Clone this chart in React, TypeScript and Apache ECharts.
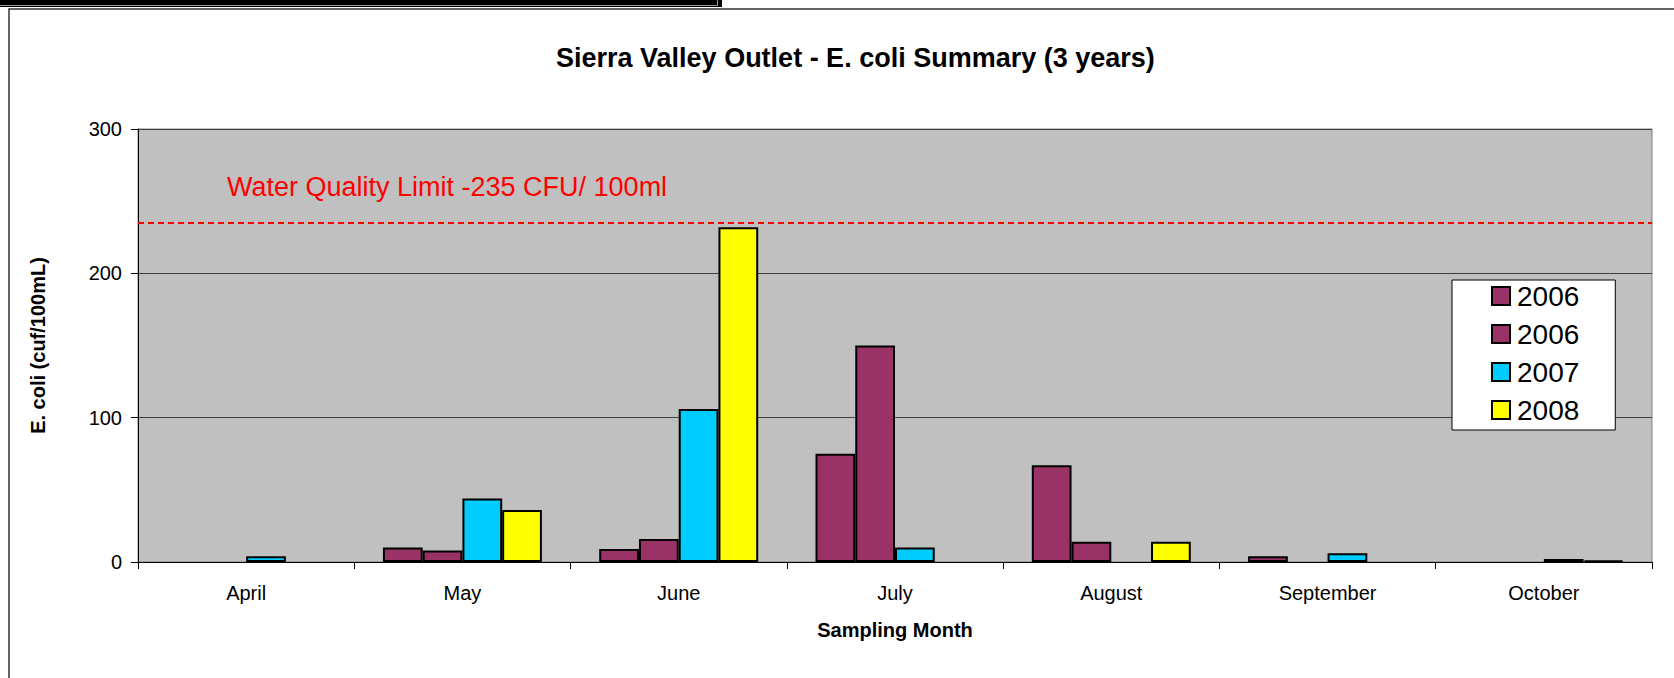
import React, { useEffect, useRef } from "react";
import * as echarts from "echarts";

const months = ["April", "May", "June", "July", "August", "September", "October"];
const legendLabels = ["2006", "2006", "2007", "2008"];
const seriesKeys = ["s2006a", "s2006b", "s2007", "s2008"];
const colors = ["#993366", "#993366", "#00CCFF", "#FFFF00"];
const values2006a = [null, 10, 9, 75, 67, 4, null];
const values2006b = [null, 8, 16, 150, 14, null, null];
const values2007 = [4, 44, 106, 10, null, 6, 2];
const values2008 = [null, 36, 232, null, 14, null, 1];
const yTicks = [0, 100, 200, 300];
const limitValue = 235;
const limitLabel = "Water Quality Limit -235 CFU/ 100ml";
const titleText = "Sierra Valley Outlet - E. coli Summary (3 years)";
const xName = "Sampling Month";
const yName = "E. coli (cuf/100mL)";

const FONT = "'Liberation Sans', Arial, Helvetica, sans-serif";

export default function App() {
  const ref = useRef<HTMLDivElement>(null);
  useEffect(() => {
    if (!ref.current) return;
    const chart = echarts.init(ref.current, null, { renderer: "svg" });
    const allValues = [values2006a, values2006b, values2007, values2008];
    const labelMap: Record<string, string> = {};
    seriesKeys.forEach((k, i) => (labelMap[k] = legendLabels[i]));
    const series: any[] = allValues.map((vals, i) => ({
      type: "bar",
      name: seriesKeys[i],
      data: vals,
      barGap: "0%",
      barCategoryGap: "26.5%",
      itemStyle: { color: colors[i], borderColor: "#000", borderWidth: 2 },
      emphasis: { disabled: true },
      ...(i === 0
        ? {
            markLine: {
              silent: true,
              symbol: "none",
              label: { show: false },
              lineStyle: { color: "#FF0000", type: [6, 4], width: 2 },
              data: [{ yAxis: limitValue }],
            },
          }
        : {}),
    }));
    chart.setOption({
      animation: false,
      backgroundColor: "#ffffff",
      textStyle: { fontFamily: FONT },
      title: {
        text: titleText,
        left: 556,
        top: 44,
        padding: 0,
        textStyle: { fontFamily: FONT, fontSize: 27, fontWeight: "bold", color: "#000" },
      },
      legend: {
        orient: "vertical",
        left: 1452,
        top: 280,
        padding: [2, 36, 6, 39],
        itemWidth: 18,
        itemHeight: 18,
        itemGap: 10,
        backgroundColor: "#ffffff",
        borderColor: "#000",
        borderWidth: 1,
        data: seriesKeys.map((k, i) => ({
          name: k,
          icon: "rect",
          itemStyle: { color: colors[i], borderColor: "#000", borderWidth: 2 },
        })),
        formatter: (n: string) => labelMap[n] ?? n,
        textStyle: { fontFamily: FONT, fontSize: 28, color: "#000", padding: [0, 0, 0, 2] },
        selectedMode: false,
      },
      grid: {
        left: 138,
        top: 129,
        width: 1514,
        height: 433,
        show: true,
        backgroundColor: "#C0C0C0",
        borderColor: "#808080",
        borderWidth: 1,
        containLabel: false,
      },
      xAxis: {
        type: "category",
        data: months,
        boundaryGap: true,
        name: xName,
        nameLocation: "middle",
        nameGap: 58,
        nameTextStyle: { fontFamily: FONT, fontSize: 20, fontWeight: "bold", color: "#000" },
        axisLine: { lineStyle: { color: "#000", width: 1 } },
        axisTick: { show: true, length: 7, alignWithLabel: false, lineStyle: { color: "#000" } },
        axisLabel: { margin: 21, fontFamily: FONT, fontSize: 20, color: "#000" },
        splitLine: { show: false },
      },
      yAxis: {
        type: "value",
        min: yTicks[0],
        max: yTicks[yTicks.length - 1],
        interval: 100,
        name: yName,
        nameLocation: "middle",
        nameRotate: 90,
        nameGap: 90,
        nameTextStyle: { fontFamily: FONT, fontSize: 20, fontWeight: "bold", color: "#000" },
        axisLine: { show: true, lineStyle: { color: "#000", width: 1 } },
        axisTick: { show: true, length: 7, lineStyle: { color: "#000" } },
        axisLabel: { margin: 16, fontFamily: FONT, fontSize: 20, color: "#000" },
        splitLine: { show: true, lineStyle: { color: "#404040", width: 1 } },
      },
      graphic: [
        {
          type: "rect",
          shape: { x: 9, y: 9, width: 1720, height: 720 },
          style: { fill: "none", stroke: "#333", lineWidth: 1.5 },
          silent: true,
          z: 0,
        },
        {
          type: "rect",
          shape: { x: 0, y: 0, width: 722, height: 7 },
          style: { fill: "#000" },
          silent: true,
        },
        {
          type: "polyline",
          shape: { points: [[0, 5.5], [717.5, 5.5], [717.5, 0]] },
          style: { stroke: "#9a9a9a", lineWidth: 1, fill: "none" },
          silent: true,
        },
        {
          type: "text",
          left: 227,
          top: 173,
          style: { text: limitLabel, fill: "#FF0000", font: `27px ${FONT}` },
          silent: true,
          z: 10,
        },
      ],
      series,
    });
    return () => chart.dispose();
  }, []);
  return (
    <div
      ref={ref}
      style={{ position: "fixed", left: 0, top: 0, width: 1674, height: 678 }}
    />
  );
}
